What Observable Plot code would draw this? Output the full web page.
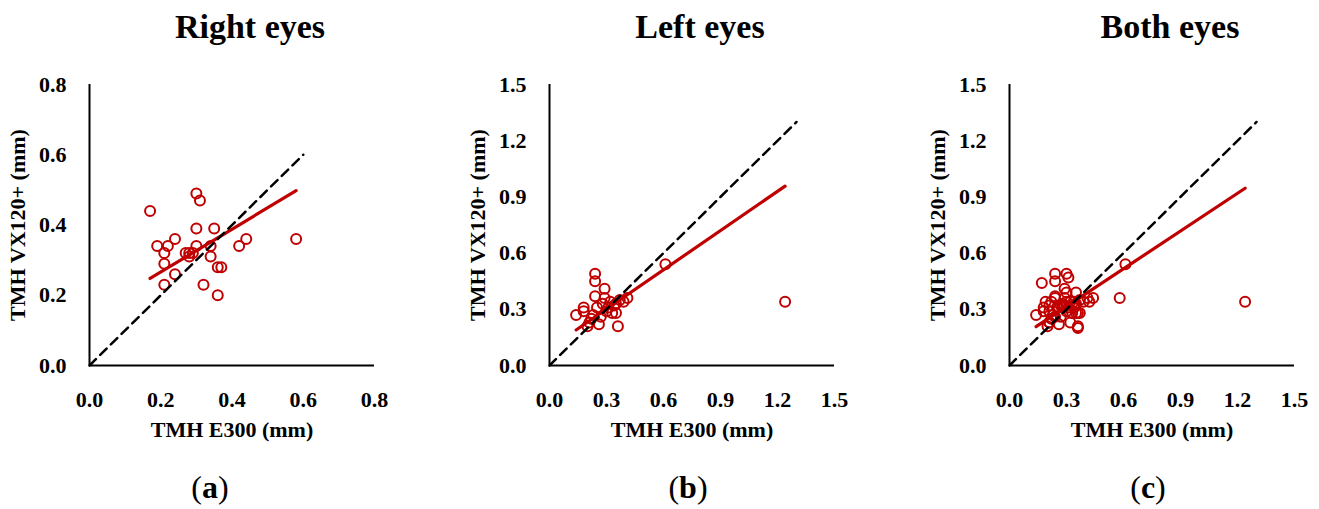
<!DOCTYPE html>
<html>
<head>
<meta charset="utf-8">
<script src="https://cdn.jsdelivr.net/npm/d3@7"></script>
<script src="https://cdn.jsdelivr.net/npm/@observablehq/plot@0.6"></script>
<style>
  html, body { margin: 0; padding: 0; background: #fff; }
  #root { position: relative; width: 1319px; height: 509px; overflow: hidden; font-family: "Liberation Serif", serif; color: #000; }
  .title { position: absolute; top: 10px; font-size: 34px; line-height: 34px; font-weight: bold; transform: translateX(-50%); white-space: nowrap; }
  .cap { position: absolute; top: 471px; font-size: 32px; line-height: 32px; transform: translateX(-50%); white-space: nowrap; }
  .cap b { font-weight: bold; }
  .panel { position: absolute; top: 70px; width: 440px; height: 380px; }
  .panel svg { max-width: none !important; }
</style>
</head>
<body>
<div id="root"></div>
<script>
// ---- data ----
const titles = ["Right eyes", "Left eyes", "Both eyes"];
const captions = ["a", "b", "c"];
const xLabel = "TMH E300 (mm)";
const yLabel = "TMH VX120+ (mm)";

// Right eyes: [TMH E300, TMH VX120+]
const rightEyes = [
  [0.17,0.44],[0.19,0.34],[0.21,0.32],[0.21,0.29],[0.21,0.23],[0.22,0.34],
  [0.24,0.36],[0.24,0.26],[0.27,0.32],[0.28,0.32],[0.28,0.31],[0.29,0.32],
  [0.30,0.49],[0.31,0.47],[0.30,0.39],[0.30,0.34],[0.32,0.23],[0.34,0.34],
  [0.34,0.31],[0.35,0.39],[0.36,0.28],[0.37,0.28],[0.36,0.20],[0.42,0.34],
  [0.44,0.36],[0.58,0.36]
];
// Left eyes
const leftEyes = [
  [0.14,0.27],[0.18,0.31],[0.18,0.29],[0.20,0.21],[0.21,0.23],[0.22,0.25],
  [0.23,0.27],[0.24,0.49],[0.24,0.45],[0.24,0.37],[0.25,0.31],[0.26,0.22],
  [0.27,0.26],[0.28,0.33],[0.29,0.41],[0.29,0.36],[0.30,0.29],[0.31,0.31],
  [0.32,0.34],[0.33,0.28],[0.34,0.32],[0.35,0.33],[0.36,0.21],[0.35,0.28],
  [0.37,0.35],[0.39,0.34],[0.41,0.36],[0.61,0.54],[1.24,0.34]
];
// Both eyes = right + left
const bothEyes = rightEyes.concat(leftEyes);

// fitted regression lines (intercept, slope)
const regA = [0.144, 0.61];
const regB = [0.092, 0.698];
const regC = [0.113, 0.672];

// identity (y = x) reference line extents
const diagA = [0, 0.6];
const diagB = [0, 1.3];
const diagC = [0, 1.3];

// axis maxima and tick values
const maxA = 0.8, maxBC = 1.5;
const ticksA = [0, 0.2, 0.4, 0.6, 0.8];
const ticksBC = [0, 0.3, 0.6, 0.9, 1.2, 1.5];

// ---- layout ----
const RED = "#c00000";
const panelLeft = [0, 460, 920];
const titleX = [250, 700, 1170];
const capX = [210, 688, 1148];

function panel(data, maxV, ticks, reg, diag) {
  const ext = d3.extent(data, d => d[0]);
  const regLine = ext.map(x => ({x, y: reg[0] + reg[1] * x}));
  return Plot.plot({
    width: 440,
    height: 380,
    marginTop: 14,
    marginBottom: 85,
    marginLeft: 89,
    marginRight: 66,
    x: {domain: [0, maxV], ticks, tickFormat: d3.format(".1f")},
    y: {domain: [0, maxV], ticks, tickFormat: d3.format(".1f")},
    style: {fontFamily: "Liberation Serif", fontSize: "22px", fontWeight: "bold", color: "#000", background: "#fff", overflow: "visible"},
    marks: [
      Plot.axisX({ticks, tickSize: 0, tickPadding: 26, label: xLabel, labelAnchor: "center", labelArrow: "none", labelOffset: 71}),
      Plot.axisY({ticks, tickSize: 0, tickPadding: 23, label: yLabel, labelAnchor: "center", labelArrow: "none", labelOffset: 80}),
      Plot.ruleY([0], {stroke: "#000", strokeWidth: 2}),
      Plot.ruleX([0], {stroke: "#000", strokeWidth: 2}),
      Plot.dot(data, {x: d => d[0], y: d => d[1], r: 5, stroke: RED, strokeWidth: 2, fill: "none"}),
      Plot.line(regLine, {x: "x", y: "y", stroke: RED, strokeWidth: 3.2}),
      Plot.line(diag, {x: d => d, y: d => d, stroke: "#000", strokeWidth: 2.5, strokeDasharray: "9,6"})
    ]
  });
}

const root = document.getElementById("root");
const charts = [
  panel(rightEyes, maxA, ticksA, regA, diagA),
  panel(leftEyes, maxBC, ticksBC, regB, diagB),
  panel(bothEyes, maxBC, ticksBC, regC, diagC)
];
charts.forEach((svg, i) => {
  const wrap = document.createElement("div");
  wrap.className = "panel";
  wrap.style.left = panelLeft[i] + "px";
  wrap.appendChild(svg);
  root.appendChild(wrap);

  const t = document.createElement("div");
  t.className = "title";
  t.style.left = titleX[i] + "px";
  t.textContent = titles[i];
  root.appendChild(t);

  const c = document.createElement("div");
  c.className = "cap";
  c.style.left = capX[i] + "px";
  c.innerHTML = "(<b>" + captions[i] + "</b>)";
  root.appendChild(c);
});
</script>
</body>
</html>
